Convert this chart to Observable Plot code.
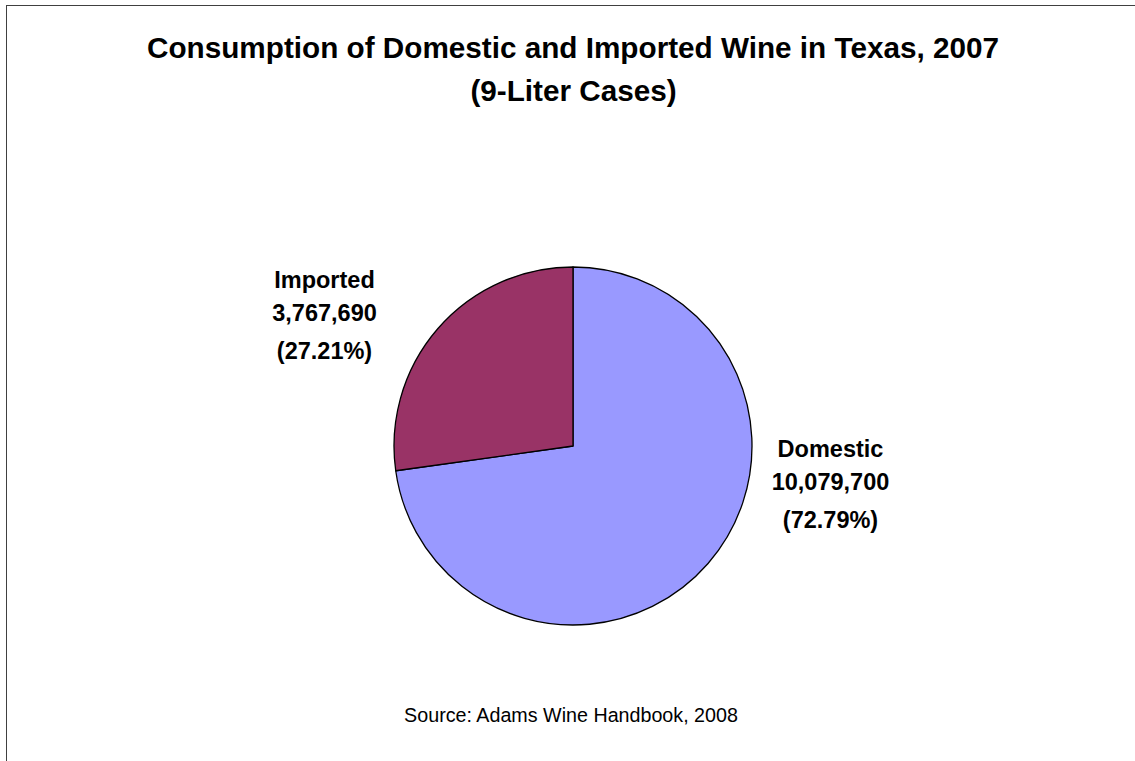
<!DOCTYPE html>
<html><head><meta charset="utf-8">
<script src="https://cdn.jsdelivr.net/npm/d3@7"></script>
<script src="https://cdn.jsdelivr.net/npm/@observablehq/plot@0.6"></script>
<style>
html,body{margin:0;padding:0;background:#fff;overflow:hidden}
#wrap{position:relative;width:1135px;height:761px;overflow:hidden}
#frame{position:absolute;left:6px;top:5px;width:1300px;height:900px;border-left:1px solid #404040;border-top:1px solid #404040;pointer-events:none}
svg{display:block}
</style></head><body><div id="wrap"><div id="frame"></div></div>
<script>
// ---- data ----
const categories = ["Domestic", "Imported"];
const cases = [10079700, 3767690];
const sliceColors = ["#9999FF", "#993366"];
const titleLines = ["Consumption of Domestic and Imported Wine in Texas, 2007", "(9-Liter Cases)"];
const sourceNote = "Source: Adams Wine Handbook, 2008";

// ---- layout (pixels) ----
const W = 1135, H = 761;
const center = [573, 446];
const radius = 179;
const labelOffset = {Domestic: [257, 10], Imported: [-249, -159]};
const lineGap = [0, 33, 71];
const FONT = "Liberation Sans, Arial, Helvetica, sans-serif";

const rows = categories.map((name, i) => ({name, value: cases[i]}));
const total = d3.sum(cases);
const pie = d3.pie().sort(null).value(d => d.value).startAngle(0).endAngle(2 * Math.PI)(rows);
const color = Plot.scale({color: {type: "ordinal", domain: categories, range: sliceColors}});
const fmt = d3.format(",");
const pctFmt = d3.format(".2%");

const labelRows = pie.flatMap(s => {
  const lines = [s.data.name, fmt(s.data.value), "(" + pctFmt(s.data.value / total) + ")"];
  return lines.map((text, i) => ({name: s.data.name, text, i}));
});

function pieMark(index, scales) {
  const g = d3.create("svg:g");
  const cx = scales.x(center[0]), cy = scales.y(center[1]);
  const r = scales.x(center[0] + radius) - cx;
  const arc = d3.arc().innerRadius(0).outerRadius(r);
  g.selectAll("path").data(pie).join("path")
    .attr("transform", `translate(${cx},${cy})`)
    .attr("d", arc)
    .attr("fill", d => color.apply(d.data.name))
    .attr("stroke", "#000")
    .attr("stroke-width", 1.3)
    .attr("stroke-linejoin", "round");
  return g.node();
}

const chart = Plot.plot({
  width: W, height: H,
  margin: 0,
  x: {domain: [0, W], range: [0, W], axis: null},
  y: {domain: [0, H], range: [0, H], axis: null},
  style: {fontFamily: FONT, background: "transparent", overflow: "visible"},
  marks: [
    pieMark,
    Plot.text(labelRows, {
      x: d => center[0] + labelOffset[d.name][0],
      y: d => center[1] + labelOffset[d.name][1] + lineGap[d.i],
      text: "text", textAnchor: "middle", lineAnchor: "bottom",
      fontSize: 23.5, fontWeight: "bold", fill: "#000", fontFamily: FONT
    }),
    Plot.text([titleLines[0]], {frameAnchor: "top", dx: 5, dy: 57, lineAnchor: "bottom",
      fontSize: 29.7, fontWeight: "bold", fill: "#000", fontFamily: FONT}),
    Plot.text([titleLines[1]], {frameAnchor: "top", dx: 5.5, dy: 100, lineAnchor: "bottom",
      fontSize: 29.7, fontWeight: "bold", fill: "#000", fontFamily: FONT}),
    Plot.text([sourceNote], {frameAnchor: "top", dx: 3, dy: 721.5, lineAnchor: "bottom",
      fontSize: 19.7, fill: "#000", fontFamily: FONT})
  ]
});
document.getElementById("wrap").prepend(chart);
</script>
</body></html>
